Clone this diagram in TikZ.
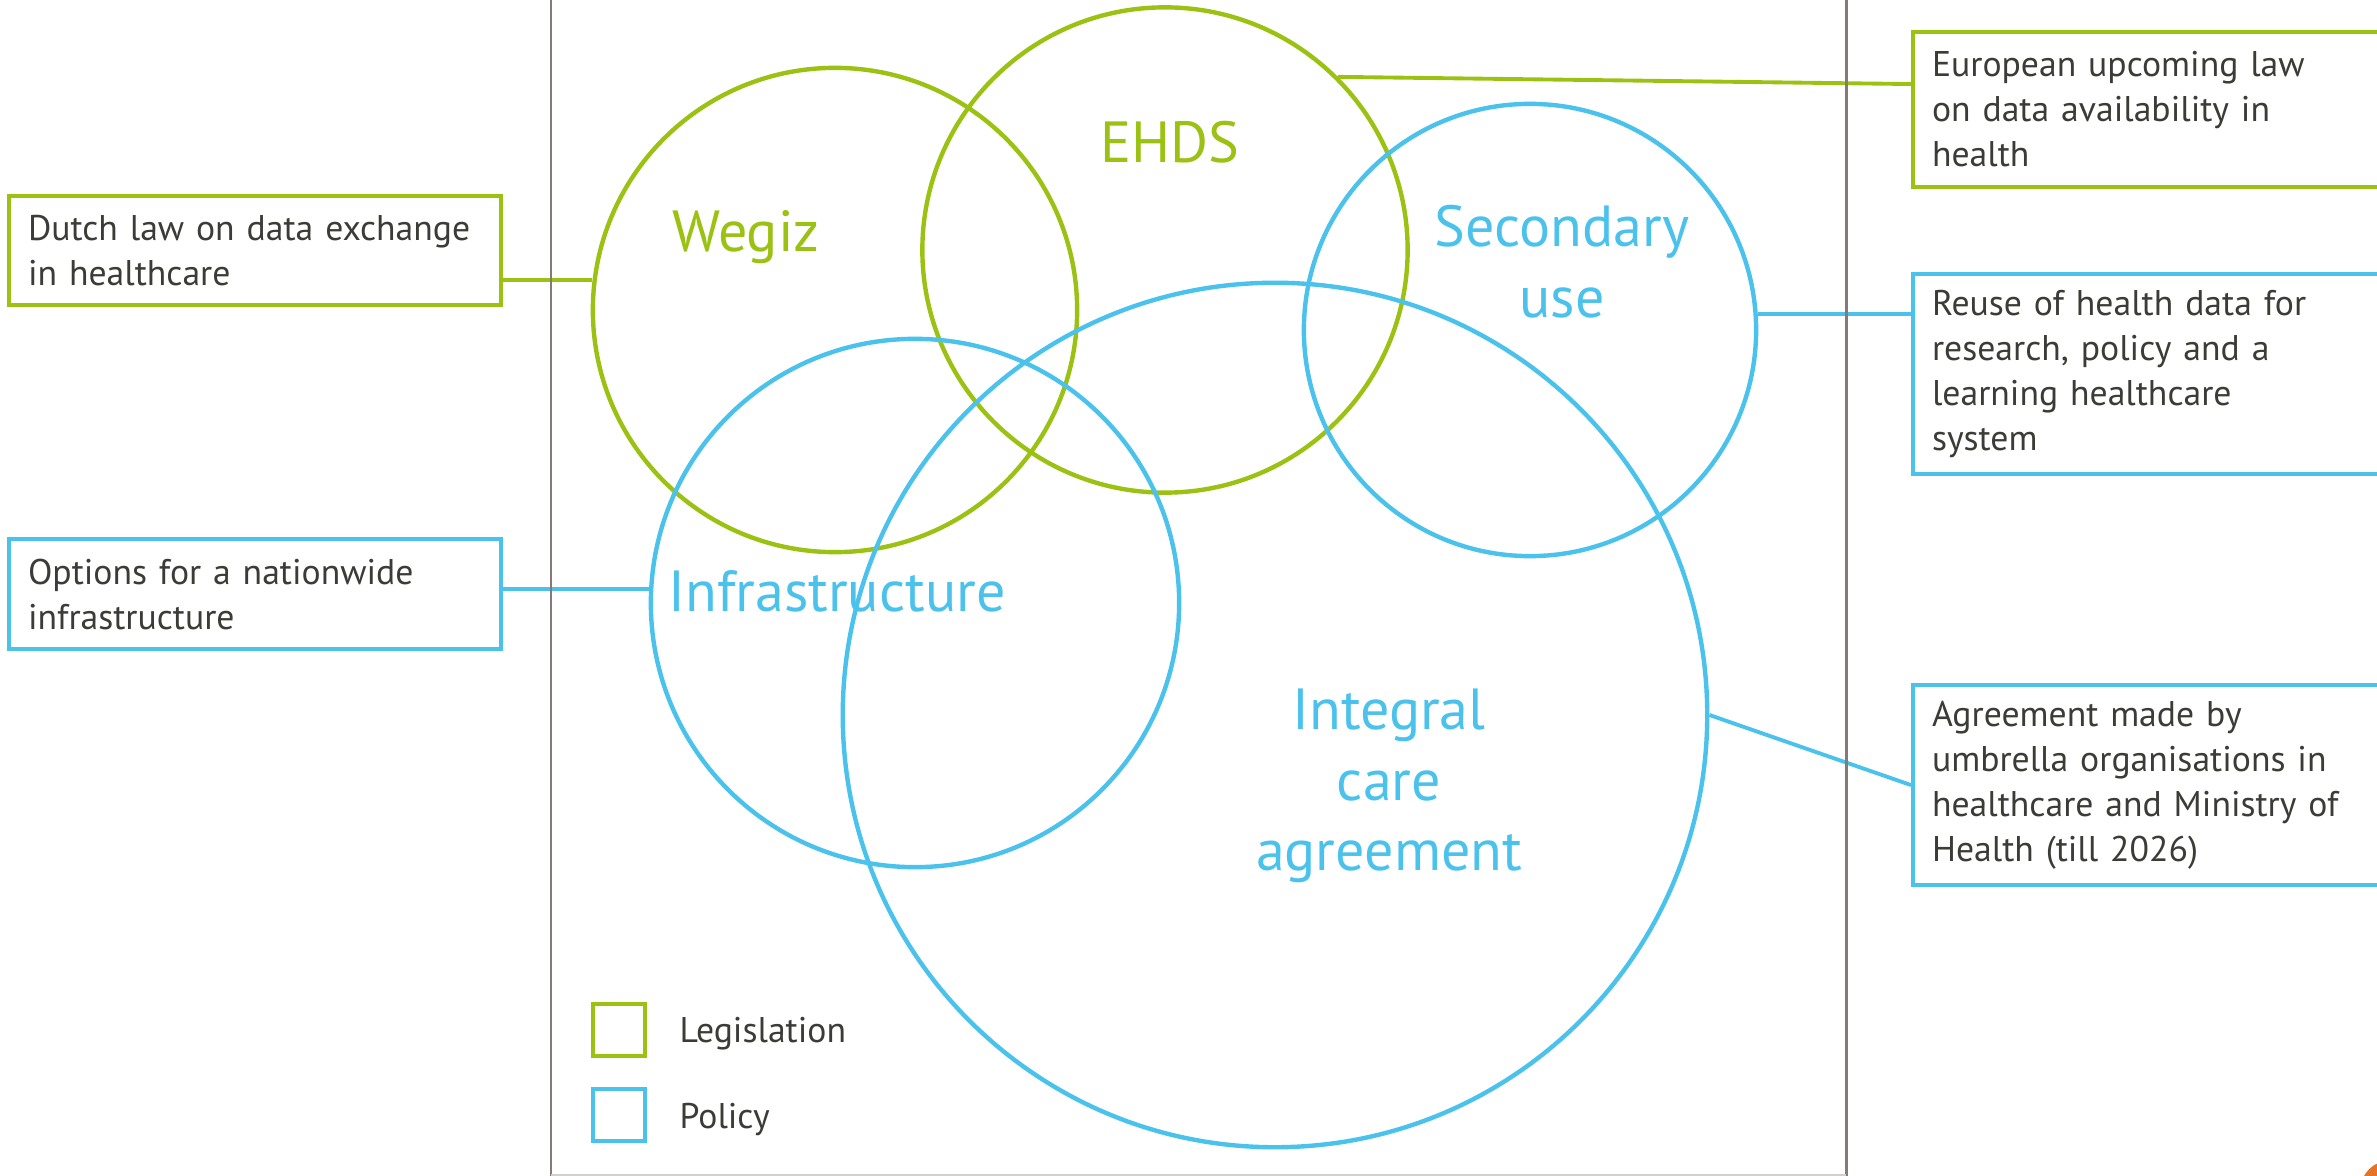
\documentclass[tikz,border=0pt]{standalone}
\usepackage{fontspec}
\setmainfont{PT Sans}
\definecolor{lawgreen}{HTML}{9BC113}
\definecolor{policyblue}{HTML}{4BC2EC}
\definecolor{framegray}{HTML}{857B76}
\definecolor{textgray}{HTML}{3B3B37}
\definecolor{edgegray}{HTML}{D2D0CE}
\definecolor{dotorange}{HTML}{E5732A}

\begin{document}
\begin{tikzpicture}[x=0.01cm, y=-0.01cm,
		every node/.style={text=textgray, font=\fontsize{10.15}{12.8}\selectfont},
		ring/.style={circle, line width=1.25pt, inner sep=0pt, minimum size=#1},
		notebox/.style={draw, line width=1.15pt, align=left, anchor=north west, text width=4.54cm,
			inner xsep=0.19cm, inner ysep=0pt, minimum height=#1,
			execute at begin node={\hyphenpenalty=10000}},
		bigtext/.style={font=\fontsize{16.5}{20.1}\selectfont, align=center},
		keybox/.style={draw, line width=1.15pt, minimum size=0.52cm, inner sep=0pt},
		link/.style={line width=1.1pt}]
		\useasboundingbox (0,0) rectangle (2377,1176);
		% circles
		\node[ring=4.84cm, draw=lawgreen] (wegiz) at (835,310) {};
		\node[ring=4.85cm, draw=lawgreen] (ehds) at (1165,250) {};
		\node[ring=4.52cm, draw=policyblue] (secondary) at (1530,330) {};
		\node[ring=5.28cm, draw=policyblue] (infra) at (915,603) {};
		\node[ring=8.64cm, draw=policyblue] (integral) at (1275,715) {};
		% circle labels
		\node[bigtext, text=lawgreen, anchor=base] (wegizlabel) at (746,252) {Wegiz};
		\node[bigtext, text=lawgreen, anchor=base] (ehdslabel) at (1170,163) {EHDS};
		\node[bigtext, text=policyblue] (secondarylabel) at (1562,262) {Secondary\\use};
		\node[bigtext, text=policyblue, anchor=base] (infralabel) at (837,612) {Infrastructure};
		\node[bigtext, text=policyblue] (integrallabel) at (1389,786) {Integral\\care\\agreement};
		% note boxes
		\node[notebox=1.09cm, draw=lawgreen] (dutch) at (7,194) {Dutch law on data exchange\\in healthcare};
		\node[notebox=1.10cm, draw=policyblue] (options) at (7,537) {Options for a nationwide\\infrastructure};
		\node[notebox=1.55cm, draw=lawgreen] (eu) at (1911,30) {European upcoming law\\on data availability in\\health};
		\node[notebox=2.00cm, draw=policyblue] (reuse) at (1911,272) {Reuse of health data for\\research, policy and a\\learning healthcare\\system};
		\node[notebox=2.00cm, draw=policyblue] (agree) at (1911,683) {Agreement made by\\umbrella organisations in\\healthcare and Ministry of\\Health (till 2026)};
		% connectors
		\draw[link, lawgreen] (wegiz.173.4) -- (wegiz.173.4 -| dutch.east);
		\draw[link, lawgreen] (ehds.45) -- ([yshift=0.255cm]eu.west);
		\draw[link, policyblue] (secondary.4.6) -- (secondary.4.6 -| reuse.west);
		\draw[link, policyblue] (infra.177.8) -- (infra.177.8 -| options.east);
		\draw[link, policyblue] (integral.east) -- (agree.west);
		% legend
		\node[keybox, draw=lawgreen] (lawkey) at (619,1030) {};
		\node[keybox, draw=policyblue] (policykey) at (619,1115) {};
		\node[anchor=base west, inner sep=0pt] (lawkeytext) at (679,1042) {Legislation};
		\node[anchor=base west, inner sep=0pt] (policykeytext) at (679,1128) {Policy};
		% frame
		\draw[line width=0.85pt, framegray] (551,0) -- (551,1176);
		\draw[line width=0.85pt, framegray] (1846,0) -- (1846,1176);
		\draw[line width=0.6pt, edgegray] (551,1175) -- (1846,1175);
		\fill[dotorange] (2390,1190) circle (0.295cm);
	\end{tikzpicture}
\end{document}
